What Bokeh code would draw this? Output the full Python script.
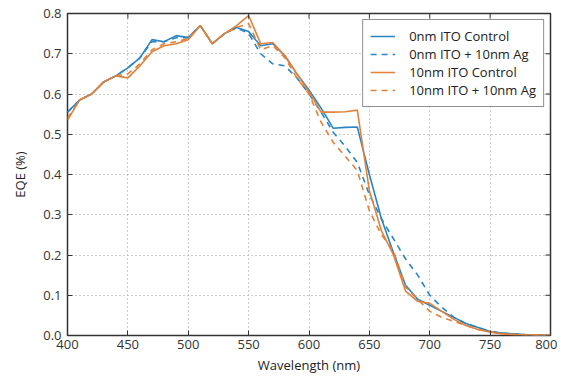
from bokeh.plotting import figure
from bokeh.models import Legend, LegendItem, Range1d, FixedTicker, PrintfTickFormatter
from bokeh.embed import file_html
from bokeh.resources import INLINE

wavelength = list(range(400, 801, 10))

ito0_control = [0.555, 0.585, 0.600, 0.630, 0.645, 0.665, 0.690, 0.735, 0.730, 0.745,
                0.740, 0.770, 0.725, 0.750, 0.765, 0.755, 0.720, 0.725, 0.695, 0.650,
                0.610, 0.565, 0.515, 0.517, 0.518, 0.400, 0.290, 0.205, 0.125, 0.090,
                0.075, 0.060, 0.045, 0.030, 0.020, 0.010, 0.006, 0.004, 0.002, 0.001, 0.000]

ito0_ag = [0.555, 0.585, 0.600, 0.630, 0.645, 0.665, 0.690, 0.730, 0.730, 0.740,
           0.740, 0.770, 0.725, 0.750, 0.765, 0.750, 0.700, 0.675, 0.670, 0.640,
           0.600, 0.555, 0.505, 0.470, 0.430, 0.350, 0.290, 0.240, 0.190, 0.150,
           0.100, 0.070, 0.045, 0.030, 0.020, 0.010, 0.006, 0.004, 0.002, 0.001, 0.000]

ito10_control = [0.535, 0.585, 0.600, 0.630, 0.645, 0.640, 0.670, 0.705, 0.720, 0.725,
                 0.735, 0.770, 0.725, 0.750, 0.770, 0.795, 0.725, 0.728, 0.695, 0.650,
                 0.605, 0.555, 0.555, 0.556, 0.560, 0.360, 0.260, 0.200, 0.110, 0.085,
                 0.080, 0.060, 0.040, 0.025, 0.015, 0.008, 0.004, 0.002, 0.002, 0.001, 0.000]

ito10_ag = [0.540, 0.585, 0.600, 0.630, 0.645, 0.650, 0.675, 0.710, 0.725, 0.730,
            0.738, 0.770, 0.725, 0.750, 0.765, 0.775, 0.710, 0.720, 0.690, 0.640,
            0.600, 0.530, 0.480, 0.445, 0.410, 0.310, 0.250, 0.210, 0.120, 0.090,
            0.060, 0.045, 0.035, 0.025, 0.015, 0.010, 0.005, 0.003, 0.002, 0.001, 0.000]

x_ticks = [400, 450, 500, 550, 600, 650, 700, 750, 800]
y_ticks = [0.0, 0.1, 0.2, 0.3, 0.4, 0.5, 0.6, 0.7, 0.8]

labels = ["0nm ITO Control", "0nm ITO + 10nm Ag", "10nm ITO Control", "10nm ITO + 10nm Ag"]

BLUE = "#2a85c4"
ORANGE = "#e2813a"
FONT = "Open Sans"

X0, X1, Y0, Y1 = 400, 800, 0.0, 0.8

p = figure(width=557, height=376, output_backend="svg", toolbar_location=None,
           x_range=Range1d(X0, X1), y_range=Range1d(Y0, Y1),
           min_border_left=67, min_border_right=7, min_border_top=13, min_border_bottom=41)

r1 = p.line(wavelength, ito0_control, line_color=BLUE, line_width=1.6)
r2 = p.line(wavelength, ito0_ag, line_color=BLUE, line_width=1.6, line_dash="6 5")
r3 = p.line(wavelength, ito10_control, line_color=ORANGE, line_width=1.6)
r4 = p.line(wavelength, ito10_ag, line_color=ORANGE, line_width=1.6, line_dash="6 5")

p.outline_line_color = "#333333"
p.outline_line_width = 1.5
p.background_fill_color = "white"
p.border_fill_color = "white"

for ax in (p.xaxis[0], p.yaxis[0]):
    ax.axis_line_color = None
    ax.major_tick_in = 5
    ax.major_tick_out = 0
    ax.minor_tick_line_color = None
    ax.major_tick_line_color = "#333333"
    ax.major_label_text_font = FONT
    ax.major_label_text_font_size = "13px"
    ax.major_label_text_color = "#333333"
    ax.axis_label_text_font = FONT
    ax.axis_label_text_font_size = "13px"
    ax.axis_label_text_font_style = "normal"
    ax.axis_label_text_color = "#222222"

p.xaxis[0].ticker = FixedTicker(ticks=x_ticks)
p.yaxis[0].ticker = FixedTicker(ticks=y_ticks)
p.yaxis[0].formatter = PrintfTickFormatter(format="%.1f")
p.xaxis[0].axis_label = "Wavelength (nm)"
p.yaxis[0].axis_label = "EQE (%)"
p.xaxis[0].major_label_standoff = 4
p.yaxis[0].major_label_standoff = 6
p.xaxis[0].axis_label_standoff = 4
p.yaxis[0].axis_label_standoff = 11

# inward tick marks on the top and right edges (derived from the tick lists)
tick_len_y = (Y1 - Y0) / 322 * 5
tick_len_x = (X1 - X0) / 481 * 5
p.segment(x0=x_ticks, y0=[Y1] * len(x_ticks), x1=x_ticks, y1=[Y1 - tick_len_y] * len(x_ticks),
          line_color="#333333", line_width=1)
p.segment(x0=[X1] * len(y_ticks), y0=y_ticks, x1=[X1 - tick_len_x] * len(y_ticks), y1=y_ticks,
          line_color="#333333", line_width=1)

p.xgrid.ticker = FixedTicker(ticks=x_ticks)
p.ygrid.ticker = FixedTicker(ticks=y_ticks)
for g in (p.xgrid[0], p.ygrid[0]):
    g.grid_line_color = "#999999"
    g.grid_line_dash = "1 3"
    g.grid_line_width = 1

legend = Legend(items=[LegendItem(label=labels[0], renderers=[r1]),
                       LegendItem(label=labels[1], renderers=[r2]),
                       LegendItem(label=labels[2], renderers=[r3]),
                       LegendItem(label=labels[3], renderers=[r4])],
                location="top_right")
legend.label_text_font = FONT
legend.label_text_font_size = "13px"
legend.label_text_color = "#222222"
legend.border_line_color = "#222222"
legend.border_line_width = 1.5
legend.background_fill_alpha = 1
legend.margin = 6
legend.padding = 7
legend.spacing = 0
legend.label_height = 16
legend.glyph_height = 16
legend.glyph_width = 25
legend.label_standoff = 14
p.add_layout(legend)

open("out.html", "w").write(file_html(p, INLINE))
